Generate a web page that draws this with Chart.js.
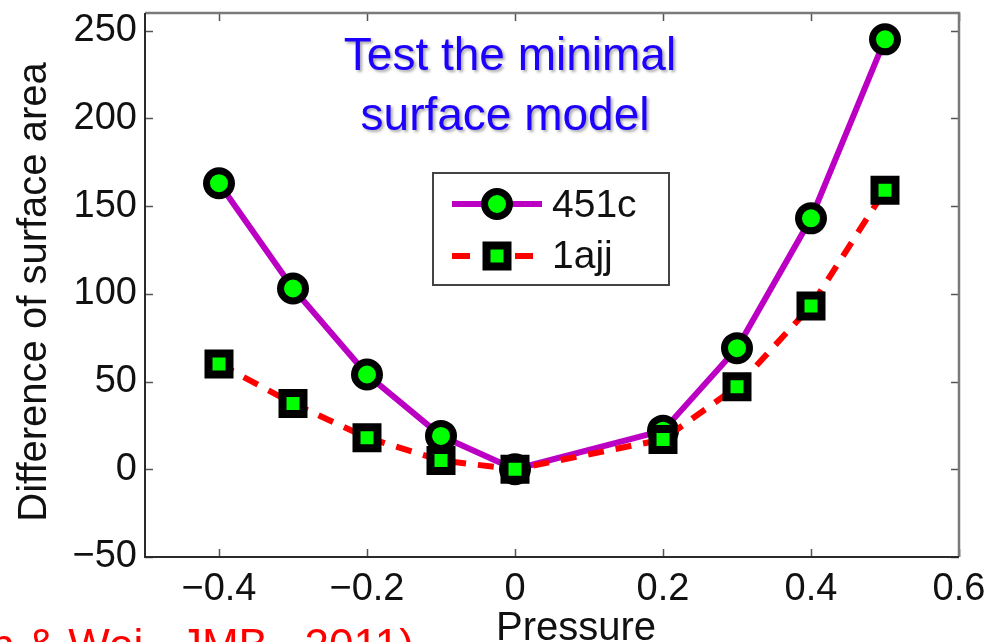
<!DOCTYPE html>
<html>
<head>
<meta charset="utf-8">
<script src="https://cdn.jsdelivr.net/npm/chart.js@4.4.1/dist/chart.umd.min.js"></script>
<style>
  html, body { margin: 0; padding: 0; background: #ffffff; }
  #wrap { width: 994px; height: 642px; position: relative; overflow: hidden; }
</style>
</head>
<body>
<div id="wrap"><canvas id="chart" width="994" height="642"></canvas></div>
<script>
// Pressure values where each structure was sampled
const pressure = [-0.4, -0.3, -0.2, -0.1, 0, 0.2, 0.3, 0.4, 0.5];
// Difference of surface area for each structure
const area451c = [163, 103, 54, 19, 0, 22, 69, 143, 245];
const area1ajj = [60, 37.5, 18, 5, 0, 17, 47, 93, 159];
// Axis ticks
const xTicks = [-0.4, -0.2, 0, 0.2, 0.4, 0.6];
const yTicks = [-50, 0, 50, 100, 150, 200, 250];
const seriesNames = ['451c', '1ajj'];

const FONT = '"Liberation Sans", Arial, Helvetica, sans-serif';
const MAGENTA = '#bb00c4';
const RED = '#ff0000';
const GREEN = '#00ff00';

function pairs(xs, ys) { return xs.map((x, i) => ({ x: x, y: ys[i] })); }
function fmt(v) {
  if (v === 0) return '0';
  const s = String(Math.round(Math.abs(v) * 10) / 10);
  return v < 0 ? '\u2212' + s : s;
}

// Box frame with inward ticks, axis titles, annotation, legend
const decor = {
  id: 'decor',
  afterDatasetsDraw(chart) {
    const ctx = chart.ctx;
    const a = chart.chartArea;
    const xs = chart.scales.x, ys = chart.scales.y;
    ctx.save();
    // ticks pointing inward on all four sides
    ctx.strokeStyle = '#555';
    ctx.lineWidth = 1.5;
    const tl = 8;
    xTicks.forEach(v => {
      const px = Math.round(xs.getPixelForValue(v)) + 0.5;
      ctx.beginPath();
      ctx.moveTo(px, a.bottom); ctx.lineTo(px, a.bottom - tl);
      ctx.moveTo(px, a.top); ctx.lineTo(px, a.top + tl);
      ctx.stroke();
    });
    yTicks.forEach(v => {
      const py = Math.round(ys.getPixelForValue(v)) + 0.5;
      ctx.beginPath();
      ctx.moveTo(a.left, py); ctx.lineTo(a.left + tl, py);
      ctx.moveTo(a.right, py); ctx.lineTo(a.right - tl, py);
      ctx.stroke();
    });
    // frame: top/right lighter, left/bottom darker
    ctx.lineWidth = 2.5;
    ctx.strokeStyle = '#7a7a7a';
    ctx.beginPath();
    ctx.moveTo(a.left, a.top); ctx.lineTo(a.right, a.top); ctx.lineTo(a.right, a.bottom);
    ctx.stroke();
    ctx.lineWidth = 2;
    ctx.strokeStyle = '#2a2a2a';
    ctx.beginPath();
    ctx.moveTo(a.left, a.top); ctx.lineTo(a.left, a.bottom); ctx.lineTo(a.right, a.bottom);
    ctx.stroke();
    ctx.restore();
  },
  afterDraw(chart) {
    const ctx = chart.ctx;
    ctx.save();
    // y axis title
    ctx.fillStyle = '#111';
    ctx.font = '40px ' + FONT;
    ctx.textAlign = 'center';
    ctx.textBaseline = 'alphabetic';
    ctx.save();
    ctx.translate(46, 292);
    ctx.rotate(-Math.PI / 2);
    ctx.fillText('Difference of surface area', 0, 0);
    ctx.restore();
    // x axis title
    ctx.fillText('Pressure', 576, 640);

    // blue heading with soft shadow
    ctx.save();
    ctx.font = '46px ' + FONT;
    ctx.fillStyle = '#1e00ff';
    ctx.shadowColor = 'rgba(0,0,0,0.35)';
    ctx.shadowOffsetX = 2;
    ctx.shadowOffsetY = 2;
    ctx.shadowBlur = 3;
    ctx.fillText('Test the minimal', 510, 70);
    ctx.fillText('surface model', 505, 130);
    ctx.restore();

    // citation
    ctx.font = '44px ' + FONT;
    ctx.fillStyle = RED;
    ctx.textAlign = 'left';
    ctx.fillText('n & Wei,  JMB,  2011)', -10, 660);

    // legend
    const L = { x: 433, y: 173, w: 236, h: 112 };
    ctx.fillStyle = '#fff';
    ctx.fillRect(L.x, L.y, L.w, L.h);
    ctx.strokeStyle = '#444';
    ctx.lineWidth = 2;
    ctx.strokeRect(L.x, L.y, L.w, L.h);
    // row 1: solid magenta with circle
    const r1 = 204, r2 = 256;
    ctx.strokeStyle = MAGENTA;
    ctx.lineWidth = 6;
    ctx.beginPath(); ctx.moveTo(452, r1); ctx.lineTo(542, r1); ctx.stroke();
    ctx.beginPath();
    ctx.arc(497, r1, 12.5, 0, Math.PI * 2);
    ctx.fillStyle = GREEN; ctx.fill();
    ctx.strokeStyle = '#000'; ctx.lineWidth = 7; ctx.stroke();
    // row 2: red dashes with square
    ctx.strokeStyle = RED;
    ctx.lineWidth = 6;
    ctx.beginPath();
    ctx.moveTo(452, r2); ctx.lineTo(470, r2);
    ctx.moveTo(515, r2); ctx.lineTo(533, r2);
    ctx.stroke();
    ctx.fillStyle = GREEN;
    ctx.fillRect(497 - 10.5, r2 - 10.5, 21, 21);
    ctx.strokeStyle = '#000'; ctx.lineWidth = 8;
    ctx.strokeRect(497 - 10.5, r2 - 10.5, 21, 21);
    // labels
    ctx.fillStyle = '#111';
    ctx.font = '39px ' + FONT;
    ctx.textAlign = 'left';
    ctx.textBaseline = 'middle';
    ctx.fillText(seriesNames[0], 552, r1 + 2);
    ctx.fillText(seriesNames[1], 552, r2 + 1);
    ctx.restore();
  }
};

// tick marks are drawn by the plugin; the scale only reserves the gap
const hiddenTickGrid = {
  display: true,
  drawOnChartArea: false,
  drawTicks: true,
  tickLength: 8,
  tickColor: 'rgba(0,0,0,0)'
};

new Chart(document.getElementById('chart'), {
  type: 'line',
  data: {
    datasets: [
      {
        label: seriesNames[0],
        data: pairs(pressure, area451c),
        borderColor: MAGENTA,
        borderWidth: 6,
        pointStyle: 'circle',
        pointRadius: 12.5,
        pointBorderWidth: 7,
        pointBackgroundColor: GREEN,
        pointBorderColor: '#000',
        tension: 0,
        order: 2,
        clip: false
      },
      {
        label: seriesNames[1],
        data: pairs(pressure, area1ajj),
        borderColor: RED,
        borderWidth: 6,
        borderDash: [16, 12],
        pointStyle: 'rect',
        pointRadius: 14.85,
        pointBorderWidth: 8,
        pointBackgroundColor: GREEN,
        pointBorderColor: '#000',
        tension: 0,
        order: 1,
        clip: false
      }
    ]
  },
  options: {
    responsive: false,
    animation: false,
    events: [],
    layout: { autoPadding: false, padding: { left: 0, top: 13, right: 35, bottom: 0 } },
    plugins: { legend: { display: false }, tooltip: { enabled: false } },
    scales: {
      x: {
        type: 'linear',
        min: -0.5,
        max: 0.6,
        grid: { display: false },
        border: { display: false },
        afterBuildTicks: axis => { axis.ticks = xTicks.map(v => ({ value: v })); },
        afterFit: axis => { axis.height = 85; },
        ticks: {
          color: '#111',
          font: { family: FONT, size: 38 },
          padding: 2,
          maxRotation: 0,
          autoSkip: false,
          callback: v => fmt(v)
        }
      },
      y: {
        type: 'linear',
        min: -50,
        max: 260,
        grid: hiddenTickGrid,
        border: { display: false },
        afterBuildTicks: axis => { axis.ticks = yTicks.map(v => ({ value: v })); },
        afterFit: axis => { axis.width = 145; },
        ticks: {
          color: '#111',
          font: { family: FONT, size: 38, lineHeight: 0.6 },
          padding: 0,
          autoSkip: false,
          callback: v => fmt(v)
        }
      }
    }
  },
  plugins: [decor]
});
</script>
</body>
</html>
